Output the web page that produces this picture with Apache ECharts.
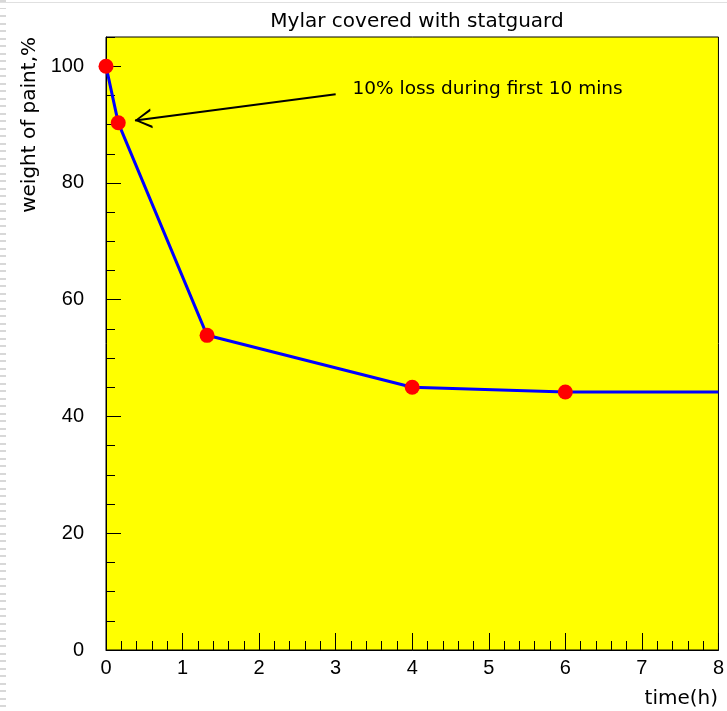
<!DOCTYPE html>
<html>
<head>
<meta charset="utf-8">
<script src="https://cdn.jsdelivr.net/npm/echarts@6/dist/echarts.min.js"></script>
<style>
  html, body { margin: 0; padding: 0; background: #fff; }
  #chart { position: absolute; left: 0; top: 0; width: 727px; height: 711px; }
  .edge-left { position: absolute; left: 0; top: 0; width: 6px; height: 711px;
    background: repeating-linear-gradient(to bottom, #d8d8d8 0 2px, transparent 2px 7.5px); }
  .edge-top { position: absolute; left: 0; top: 2px; width: 727px; height: 1px; background: #e0e0e0; }
</style>
</head>
<body>
<div id="chart"></div>
<div class="edge-left"></div>
<div class="edge-top"></div>
<script>
// measured points (time in hours, weight of paint in %)
var times = [0, 0.16, 1.32, 4, 6];
var weights = [100, 90.3, 53.9, 45, 44.2];
// line carries on to the end of the axis without a marker
var tailTime = 8;
var tailWeight = 44.2;

var xTicks = [0, 1, 2, 3, 4, 5, 6, 7, 8];
var yTicks = [0, 20, 40, 60, 80, 100];

// annotation arrow: from text to the second point
var noteText = '10% loss during first 10 mins';
var notePos = [3.22, 96.0];
var arrowFrom = [3.0, 95.2];
var arrowTo = [0.38, 90.7];

var chart = echarts.init(document.getElementById('chart'));

var lineData = times.map(function (t, i) { return [t, weights[i]]; });
lineData.push({ value: [tailTime, tailWeight], symbol: 'none' });

var labelFont = { color: '#000', fontFamily: 'Liberation Sans', fontSize: 20 };
var gridBox = { left: 106, right: 8, top: 37, bottom: 61 };

var option = {
  animation: false,
  backgroundColor: '#fff',
  title: {
    text: 'Mylar covered with statguard',
    left: 412, top: 7, textAlign: 'center',
    textStyle: { fontFamily: 'DejaVu Sans', fontWeight: 'normal', fontSize: 20, color: '#000' }
  },
  grid: {
    left: gridBox.left, right: gridBox.right, top: gridBox.top, bottom: gridBox.bottom,
    show: true, backgroundColor: '#ffff00', borderColor: '#000', borderWidth: 1
  },
  xAxis: {
    type: 'value', min: xTicks[0], max: xTicks[xTicks.length - 1], interval: 1,
    axisLine: { show: true, lineStyle: { color: '#000', width: 1 } },
    axisTick: { show: true, inside: true, length: 17, lineStyle: { color: '#000' } },
    minorTick: { show: true, splitNumber: 5, length: 9, lineStyle: { color: '#000' } },
    splitLine: { show: false },
    axisLabel: Object.assign({ margin: 8 }, labelFont)
  },
  yAxis: [{
    type: 'value', min: yTicks[0], max: 105, interval: 20,
    axisLine: { show: true, onZero: false, lineStyle: { color: '#000', width: 1 } },
    axisTick: { show: true, inside: true, length: 15, lineStyle: { color: '#000' } },
    splitLine: { show: false },
    axisLabel: Object.assign({ margin: 22, showMaxLabel: false }, labelFont)
  }, {
    // second axis only for the small ticks every 5 %
    type: 'value', min: 0, max: 105, interval: 5, position: 'left',
    axisLine: { show: false },
    axisTick: { show: true, inside: true, length: 9, lineStyle: { color: '#000' } },
    splitLine: { show: false },
    axisLabel: { show: false }
  }],
  graphic: [{
    type: 'text', x: 30, y: 37, rotation: Math.PI / 2,
    style: { text: 'weight of paint,%', align: 'right', verticalAlign: 'middle',
      font: '20px "DejaVu Sans"', fill: '#000' }
  }, {
    type: 'text', x: 718, y: 699,
    style: { text: 'time(h)', align: 'right', verticalAlign: 'middle',
      font: '20px "DejaVu Sans"', fill: '#000' }
  }],
  series: [{
    type: 'line',
    data: lineData,
    symbol: 'circle',
    symbolSize: 15,
    itemStyle: { color: '#ff0000' },
    lineStyle: { color: '#0000ff', width: 3 },
    z: 3,
    markLine: {
      silent: true,
      symbol: ['none', 'path://M10,0 L0,20 L2.5,20 L10,4 L17.5,20 L20,20 Z'],
      symbolSize: [20, 17],
      symbolOffset: [[0, 0], [0, 8]],
      lineStyle: { color: '#000', width: 2, type: 'solid' },
      itemStyle: { color: '#000' },
      label: { show: false },
      data: [[{ coord: arrowFrom }, { coord: arrowTo }]]
    },
    markPoint: {
      silent: true,
      symbol: 'circle',
      symbolSize: 0,
      label: {
        show: true, position: 'right', distance: 0,
        formatter: noteText,
        fontFamily: 'DejaVu Sans', fontSize: 18.5, color: '#000'
      },
      data: [{ coord: notePos }]
    }
  }]
};

chart.setOption(option);
</script>
</body>
</html>
